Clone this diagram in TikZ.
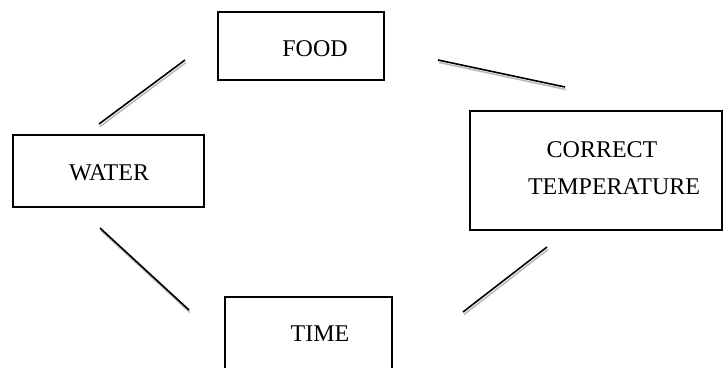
\documentclass[tikz,border=0pt]{standalone}
\usepackage{fontspec}
\setmainfont{Liberation Serif}
\tikzset{
  boxnode/.style={draw=black, line width=1.4pt, rectangle, inner sep=0pt},
  lbl/.style={font=\fontsize{24}{30}\selectfont, inner sep=0pt, align=center},
  link/.style={black, line width=1.6pt},
  linkshadow/.style={black!28, line width=1.5pt}
}
\begin{document}
\begin{tikzpicture}[x=1pt,y=-1pt]
\useasboundingbox (0,0) rectangle (725,367);
\clip (0,0) rectangle (725,367);
% boxes
\node[boxnode, minimum width=166pt, minimum height=68pt] (food) at (301,46) {};
\node[boxnode, minimum width=191pt, minimum height=72pt] (water) at (108.5,171) {};
\node[boxnode, minimum width=252pt, minimum height=119pt] (temp) at (596,170.5) {};
\node[boxnode, minimum width=167pt, minimum height=120pt] (time) at (308.5,357) {};
% labels
\node[lbl] (foodt) at (315,49) {FOOD};
\node[lbl] (watert) at (109,173) {WATER};
\node[lbl] (tempt1) at (602,150) {CORRECT};
\node[lbl] (tempt2) at (614,187) {TEMPERATURE};
\node[lbl] (timet) at (320,334) {TIME};
% connector end points
\coordinate (a1) at (99,124);  \coordinate (a2) at (185,60);
\coordinate (b1) at (438,60);  \coordinate (b2) at (565,87);
\coordinate (c1) at (100,228); \coordinate (c2) at (189,310);
\coordinate (d1) at (463,312); \coordinate (d2) at (547,247);
% shadows
\foreach \p/\q in {a1/a2,b1/b2,c1/c2,d1/d2}{
  \draw[linkshadow] ([shift={(1,2.5)}]\p) -- ([shift={(1,2.5)}]\q);
}
% links
\draw[link] (a1) -- (a2);
\draw[link] (b1) -- (b2);
\draw[link] (c1) -- (c2);
\draw[link] (d1) -- (d2);
\end{tikzpicture}
\end{document}
